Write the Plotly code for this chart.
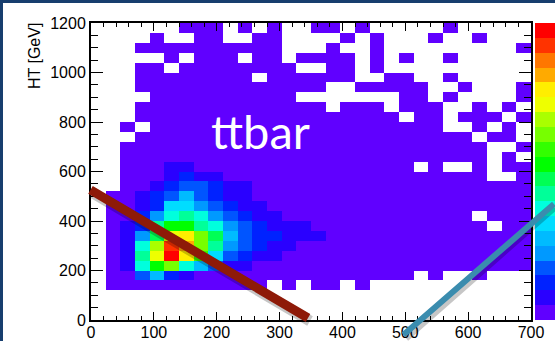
import plotly.graph_objects as go

# ---- data: 30 x 30 bins, x 0..700, y (HT) 0..1200; values are colour levels (0 = empty bin)
x_range = [0, 700]
y_range = [0, 1200]
n_bins = 30

# rows listed from top (HT 1160-1200) to bottom (HT 0-40)
z_top_down = [
    [0,0,0,0,0,0,1,1,1,0,1,0,1,0,0,1,1,0,1,0,0,0,0,0,1,0,0,0,0,0],
    [0,0,0,0,1,0,0,1,1,0,0,1,1,0,0,0,0,1,0,1,0,0,0,1,0,0,1,0,0,0],
    [0,0,0,1,1,1,1,1,1,1,1,1,1,0,0,0,1,0,0,1,0,0,0,0,0,0,0,0,0,1],
    [0,0,0,0,0,1,0,1,1,1,0,1,1,0,1,1,1,1,0,1,0,1,0,0,1,0,0,0,0,0],
    [0,0,0,1,1,0,1,1,1,1,1,1,1,1,0,0,1,1,0,1,0,0,0,0,0,0,0,0,0,0],
    [0,0,0,1,1,1,1,1,1,1,1,0,1,1,1,1,1,1,0,0,1,1,0,0,1,0,0,0,0,0],
    [0,0,0,1,1,1,1,1,1,1,1,1,1,1,1,1,0,0,1,1,1,1,1,0,0,1,0,0,0,1],
    [0,0,0,0,1,1,1,1,1,1,1,1,1,1,0,0,0,0,0,0,0,1,1,0,1,0,0,0,0,1],
    [0,0,0,1,1,1,1,1,1,1,1,1,1,1,1,1,0,1,1,1,0,1,1,1,0,0,1,0,1,0],
    [0,0,0,1,1,1,1,1,1,1,1,1,1,1,1,1,1,1,1,1,1,0,1,1,0,1,1,1,0,1],
    [0,0,1,0,1,1,1,1,1,1,1,1,1,1,1,1,1,1,1,1,1,1,1,1,0,0,1,0,1,0],
    [0,0,0,1,1,1,1,1,1,1,1,1,1,1,1,1,1,1,1,1,1,1,1,1,1,1,0,1,1,0],
    [0,0,1,1,1,1,1,1,1,1,1,1,1,1,1,1,1,1,1,1,1,1,1,1,1,1,1,0,0,1],
    [0,0,1,1,1,1,1,1,1,1,1,1,1,1,1,1,1,1,1,1,1,1,1,1,1,1,1,0,1,0],
    [0,0,1,1,1,2,2,1,1,1,1,1,1,1,1,1,1,1,1,1,1,1,0,1,0,0,1,0,1,1],
    [0,0,1,1,1,2,3,2,2,1,1,1,1,1,1,1,1,1,1,1,1,1,1,1,1,1,1,0,0,1],
    [0,0,1,1,2,3,4,4,3,2,2,1,1,1,1,1,1,1,1,1,1,1,1,1,1,1,1,1,1,1],
    [0,1,1,2,3,4,6,4,3,2,2,1,1,1,1,1,1,1,1,1,1,1,1,1,1,1,1,1,1,1],
    [0,1,1,2,3,7,7,5,4,3,2,2,1,1,1,1,1,1,1,1,1,1,1,1,1,1,1,1,1,1],
    [0,1,1,3,5,8,9,8,5,4,3,2,2,1,1,1,1,1,1,1,1,1,1,1,1,1,0,1,1,1],
    [0,1,2,3,9,11,11,9,8,5,4,3,2,2,2,1,1,1,1,1,1,1,1,1,1,1,1,0,1,1],
    [0,1,2,5,10,15,16,13,10,6,4,3,3,2,2,2,1,1,1,1,1,1,1,1,1,1,1,1,1,1],
    [0,1,2,8,14,19,17,13,9,5,4,3,2,2,1,1,1,1,1,1,1,1,1,1,1,1,1,1,1,1],
    [0,1,2,9,15,20,16,12,7,4,3,2,2,1,1,1,1,1,1,1,1,1,1,1,1,1,1,1,1,1],
    [0,1,2,8,11,13,8,6,4,2,2,1,1,1,1,1,1,1,1,1,1,1,1,1,1,1,1,1,1,1],
    [0,1,1,4,6,3,2,1,1,1,1,1,1,1,1,1,1,1,1,1,1,1,0,1,0,0,1,0,0,0],
    [0,1,1,1,1,1,1,1,1,1,1,1,0,1,0,1,1,0,1,0,0,0,0,0,0,0,0,0,0,0],
    [0]*30,
    [0]*30,
    [0]*30,
]

x_ticks = [0, 100, 200, 300, 400, 500, 600, 700]
y_ticks = [0, 200, 400, 600, 800, 1000, 1200]
y_title = "HT [GeV]"
label = "ttbar"

palette = ["#6000ff", "#2a00ff", "#0022ff", "#0055ff", "#0099ff", "#00bbff",
           "#00ddff", "#00ffdd", "#00ff99", "#00ff55", "#00ff00", "#33ff00",
           "#77ff00", "#aaff00", "#eeff00", "#ffee00", "#ffaa00", "#ff7700",
           "#ff3300", "#ff0000"]

# ---- build
z = [[(v if v > 0 else None) for v in row] for row in reversed(z_top_down)]
dx = (x_range[1] - x_range[0]) / n_bins
dy = (y_range[1] - y_range[0]) / n_bins

nlev = len(palette)
colorscale = []
for k, c in enumerate(palette):
    colorscale.append([k / nlev, c])
    colorscale.append([(k + 1) / nlev, c])

W, H = 555, 341
ML, MR, MT, MB = 91, 24, 23, 21
PW, PH = W - ML - MR, H - MT - MB

def px(xp):
    return (xp - ML) / PW

def py(yp):
    return (H - MB - yp) / PH

fig = go.Figure(go.Heatmap(
    z=z, x0=x_range[0] + dx / 2, dx=dx, y0=y_range[0] + dy / 2, dy=dy,
    zmin=0.5, zmax=nlev + 0.5, colorscale=colorscale, hoverongaps=False,
    colorbar=dict(x=px(535), xanchor="left", xpad=0, ypad=0, y=0.5, yanchor="middle",
                  len=1, lenmode="fraction", thickness=24, outlinewidth=0,
                  showticklabels=False, ticks=""),
))

tickfont = dict(family="Liberation Sans, Arial, sans-serif", size=16, color="black")
fig.update_xaxes(range=x_range, tickvals=x_ticks, ticks="inside", ticklen=8, tickwidth=1.3,
                 tickcolor="black", showline=True, linecolor="black", linewidth=2,
                 mirror="ticks", showgrid=False, zeroline=False, tickfont=tickfont,
                 ticklabelstandoff=-3,
                 minor=dict(dtick=20, ticks="inside", ticklen=4, tickcolor="black", tickwidth=1))
fig.update_yaxes(range=y_range, tickvals=y_ticks, ticks="inside", ticklen=12, tickwidth=1.3,
                 tickcolor="black", showline=True, linecolor="black", linewidth=2,
                 mirror="ticks", showgrid=False, zeroline=False, tickfont=tickfont,
                 minor=dict(dtick=50, ticks="inside", ticklen=7, tickcolor="black", tickwidth=1))

navy = "#173e6e"
shapes = [
    dict(type="rect", xref="paper", yref="paper", x0=px(-5), x1=px(3), y0=py(H + 5), y1=py(-5),
         fillcolor=navy, line=dict(width=0), layer="above"),
    dict(type="rect", xref="paper", yref="paper", x0=px(-5), x1=px(W + 5), y0=py(3), y1=py(-5),
         fillcolor=navy, line=dict(width=0), layer="above"),
]

annotations = [
    dict(text=y_title, xref="paper", yref="paper", x=px(34.5), y=py(56.5), textangle=-90,
         xanchor="center", yanchor="middle", showarrow=False,
         font=dict(family="Liberation Sans, Arial, sans-serif", size=16, color="black")),
    dict(text=label, xref="x", yref="y", x=(260 - ML) / PW * 700, y=(H - MB - 131) / PH * 1200,
         xanchor="center", yanchor="middle", showarrow=False,
         font=dict(family="Lato, sans-serif", size=47, color="white")),
]

def bar(x0, y0, x1, y1, color, width, dxs=0, dys=0):
    # decorative pen stroke drawn as an arrow-less annotation line
    return dict(text="", xref="paper", yref="paper", x=px(x1 + dxs), y=py(y1 + dys),
                ax=(x0 - x1), ay=(y0 - y1), axref="pixel", ayref="pixel",
                showarrow=True, arrowhead=0, arrowwidth=width, arrowcolor=color,
                standoff=0, startstandoff=0)

annotations += [
    bar(89, 189, 308, 318, "rgba(0,0,0,0.22)", 11, 2, 3),
    bar(89, 189, 308, 318, "#8e1a08", 9),
    bar(402, 336, 560, 204, "rgba(0,0,0,0.22)", 8, 2, 3),
    bar(402, 336, 560, 204, "#3a8cae", 6),
]

fig.update_layout(
    width=W, height=H, margin=dict(l=ML, r=MR, t=MT, b=MB, autoexpand=False),
    paper_bgcolor="white", plot_bgcolor="white",
    shapes=shapes, annotations=annotations, showlegend=False,
)

fig.write_html("out.html", config={"displayModeBar": False},
               post_script="document.body.style.margin='0';document.body.style.overflow='hidden';")
